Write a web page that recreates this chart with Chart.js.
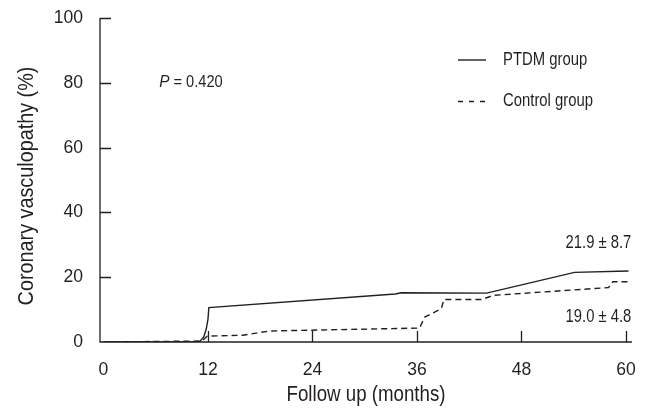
<!DOCTYPE html>
<html><head><meta charset="utf-8">
<script src="https://cdn.jsdelivr.net/npm/chart.js@4.4.1/dist/chart.umd.min.js"></script>
<style>html,body{margin:0;padding:0;background:#fff}#wrap{width:656px;height:410px}</style>
</head><body><div id="wrap"><canvas id="c" width="656" height="410"></canvas></div>
<script>
const xTicks = [0, 12, 24, 36, 48, 60];
const yTicks = [0, 20, 40, 60, 80, 100];
const ptdmMonths = [0, 11.0, 11.5, 11.8, 12.0, 12.1, 33.5, 34.2, 44.0, 54.1, 60.3];
const ptdmValues = [0, 0, 1.5, 4, 7, 10.6, 14.8, 15.2, 15.1, 21.5, 21.9];
const controlMonths = [0, 11.3, 11.9, 16.0, 19.1, 36.3, 36.9, 38.8, 39.1, 43.4, 44.8, 58.0, 58.5, 60.3];
const controlValues = [0, 0.3, 1.8, 2.1, 3.4, 4.3, 7.7, 10.3, 13.1, 13.1, 14.4, 16.8, 18.6, 18.6];
const seriesNames = ["PTDM group", "Control group"];
const pText = "0.420";
const ptdmLabel = "21.9 \u00b1 8.7";
const controlLabel = "19.0 \u00b1 4.8";
const xTitle = "Follow up (months)";
const yTitle = "Coronary vasculopathy (%)";

const INK = '#231f20';
const FONT = '"Liberation Sans", Arial, sans-serif';
const toPts = (xs, ys) => xs.map((x, i) => ({x, y: ys[i]}));

function txt(ctx, s, x, y, size, sx, align, base, style, rot) {
  ctx.save();
  ctx.translate(x, y);
  if (rot) ctx.rotate(rot);
  ctx.scale(sx, 1);
  ctx.font = (style || '') + ' ' + size + 'px ' + FONT;
  ctx.textAlign = align; ctx.textBaseline = base;
  ctx.fillStyle = INK;
  ctx.fillText(s, 0, 0);
  ctx.restore();
}

const overlay = {
  id: 'overlay',
  afterDraw(chart) {
    const ctx = chart.ctx, xs = chart.scales.x, ys = chart.scales.y, a = chart.chartArea;
    ctx.save();
    ctx.strokeStyle = INK; ctx.lineWidth = 1.3;
    ctx.beginPath();
    ctx.moveTo(a.left, ys.getPixelForValue(100)); ctx.lineTo(a.left, a.bottom); ctx.lineTo(a.right, a.bottom);
    ctx.stroke();
    ctx.beginPath();
    xTicks.slice(1).forEach(v => { const p = Math.round(xs.getPixelForValue(v)) + 0.5; ctx.moveTo(p, a.bottom); ctx.lineTo(p, a.bottom - 11); });
    yTicks.slice(1).forEach(v => { const p = Math.round(ys.getPixelForValue(v)) + 0.5; ctx.moveTo(a.left, p); ctx.lineTo(a.left + 11, p); });
    ctx.stroke();
    yTicks.forEach(v => txt(ctx, String(v), 83, ys.getPixelForValue(v), 18.5, 0.95, 'right', 'middle'));
    xTicks.forEach(v => txt(ctx, String(v), xs.getPixelForValue(v), 375, 18.5, 0.95, 'center', 'alphabetic'));
    txt(ctx, xTitle, (a.left + a.right) / 2, 401, 22, 0.85, 'center', 'alphabetic');
    txt(ctx, yTitle, 33, 186, 22, 0.9, 'center', 'alphabetic', '', -Math.PI / 2);
    ctx.lineWidth = 1.4;
    ctx.beginPath(); ctx.moveTo(458, 60); ctx.lineTo(486, 60); ctx.stroke();
    txt(ctx, seriesNames[0], 503, 60, 17.7, 0.84, 'left', 'middle');
    ctx.setLineDash([5, 6]);
    ctx.beginPath(); ctx.moveTo(458, 101.5); ctx.lineTo(487, 101.5); ctx.stroke();
    ctx.setLineDash([]);
    txt(ctx, seriesNames[1], 503, 101.5, 17.7, 0.84, 'left', 'middle');
    const px = xs.getPixelForValue(6.4), py = ys.getPixelForValue(78.7);
    txt(ctx, 'P', px, py, 17, 0.9, 'left', 'alphabetic', 'italic');
    ctx.font = 'italic 17px ' + FONT;
    const pw = ctx.measureText('P').width * 0.9;
    txt(ctx, ' = ' + pText, px + pw, py, 17, 0.86, 'left', 'alphabetic');
    txt(ctx, ptdmLabel, xs.getPixelForValue(56.85), ys.getPixelForValue(28.9), 18.5, 0.8, 'center', 'alphabetic');
    txt(ctx, controlLabel, xs.getPixelForValue(56.85), ys.getPixelForValue(6.2), 18.5, 0.8, 'center', 'alphabetic');
    ctx.restore();
  }
};

new Chart(document.getElementById('c'), {
  type: 'line',
  data: {
    datasets: [
      { label: seriesNames[0], data: toPts(ptdmMonths, ptdmValues), borderColor: INK, borderWidth: 1.4, pointRadius: 0, fill: false, tension: 0 },
      { label: seriesNames[1], data: toPts(controlMonths, controlValues), borderColor: INK, borderWidth: 1.4, borderDash: [6, 4], pointRadius: 0, fill: false, tension: 0 }
    ]
  },
  options: {
    responsive: false, animation: false, devicePixelRatio: 1,
    layout: { padding: { left: 0, right: 24, top: 18, bottom: 0 } },
    plugins: { legend: { display: false }, tooltip: { enabled: false } },
    scales: {
      x: {
        type: 'linear', min: -0.4, max: 60.7,
        afterBuildTicks: s => { s.ticks = xTicks.map(v => ({value: v})); },
        afterFit: s => { s.height = 68; },
        grid: { display: false, drawTicks: false },
        border: { display: false },
        ticks: { display: false },
        title: { display: false }
      },
      y: {
        type: 'linear', min: 0, max: 100,
        afterBuildTicks: s => { s.ticks = yTicks.map(v => ({value: v})); },
        afterFit: s => { s.width = 100; },
        grid: { display: false, drawTicks: false },
        border: { display: false },
        ticks: { display: false },
        title: { display: false }
      }
    }
  },
  plugins: [overlay]
});
</script></body></html>
